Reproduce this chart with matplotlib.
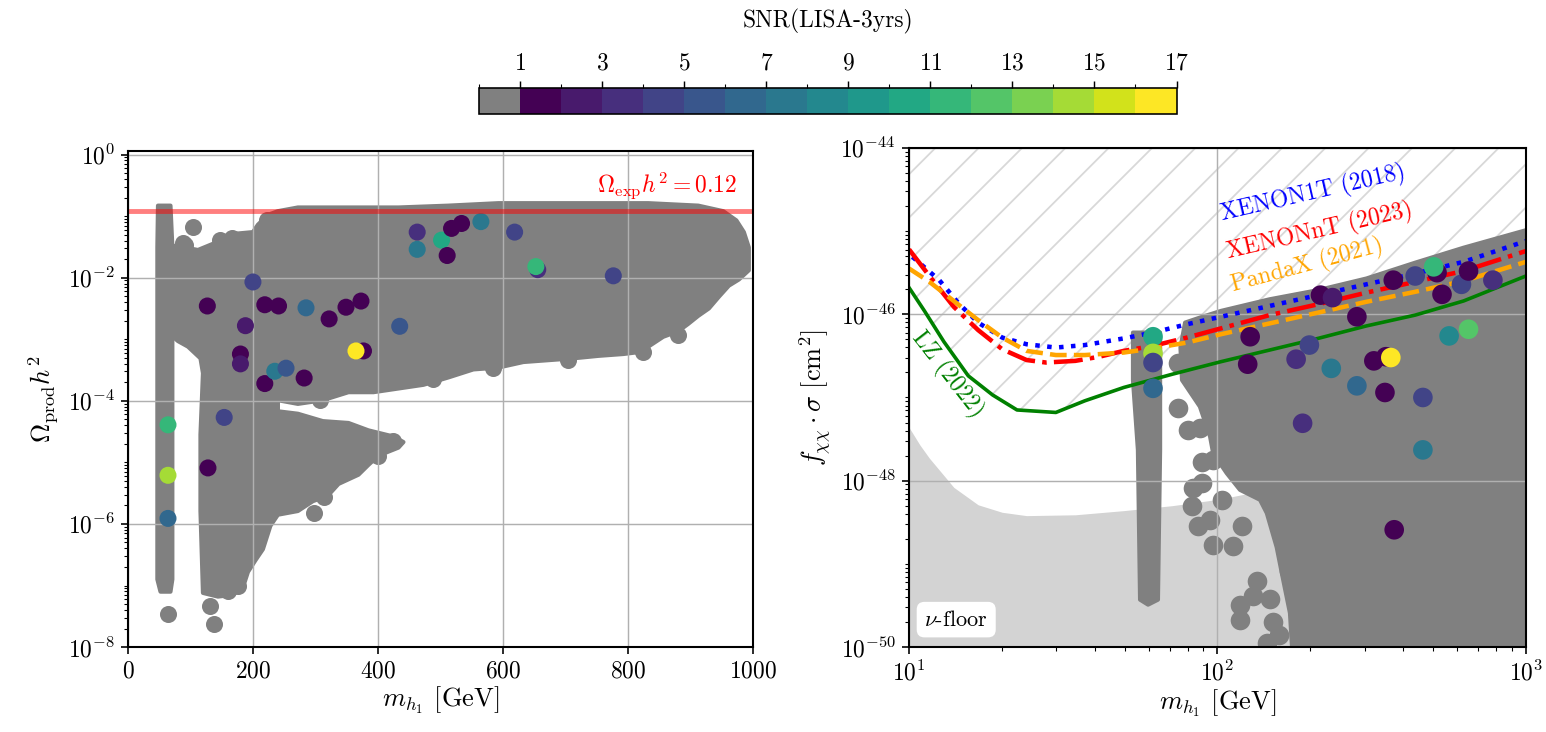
import numpy as np
import matplotlib
matplotlib.use("Agg")
import matplotlib.pyplot as plt
import matplotlib.ticker as mticker
from matplotlib.colors import ListedColormap, BoundaryNorm
from matplotlib.colorbar import ColorbarBase

plt.rcParams.update({
    "font.family": "serif",
    "font.serif": ["cmr10"],
    "mathtext.fontset": "cm",
    "axes.formatter.use_mathtext": True,
    "axes.unicode_minus": False,
    "font.size": 13,
    "hatch.linewidth": 1.0,
})

GREY = "#808080"
DPI = 130

# ---------------- left panel: m_h1 [GeV] vs log10(Omega_prod h^2) ----------------
# outline of the dense grey scan region
left_cloud_m = [72, 96, 112, 136, 168, 200, 208, 224, 240, 272, 353, 433, 513, 593, 753, 833,
                913, 953, 974, 986, 994, 994, 978, 962, 946, 930, 913, 897, 881, 857, 833, 817,
                793, 753, 713, 673, 633, 593, 553, 513, 473, 433, 393, 353, 312, 272, 240, 240,
                272, 312, 353, 385, 425, 441, 433, 401, 385, 369, 337, 320, 296, 272, 240, 228,
                216, 204, 192, 184, 168, 144, 120, 116, 116, 120, 116, 96, 80, 72]
left_cloud_logy = [-1.48, -1.52, -1.55, -1.45, -1.29, -1.26, -1.14, -0.98, -0.92, -0.86, -0.86,
                   -0.86, -0.83, -0.79, -0.79, -0.79, -0.83, -0.92, -1.07, -1.26, -1.51, -1.88,
                   -2.03, -2.13, -2.31, -2.50, -2.62, -2.75, -2.87, -2.96, -3.12, -3.21, -3.24,
                   -3.27, -3.31, -3.34, -3.37, -3.46, -3.49, -3.62, -3.74, -3.80, -3.86, -3.86,
                   -3.99, -4.05, -3.99, -4.17, -4.21, -4.33, -4.36, -4.48, -4.58, -4.67, -4.76,
                   -4.89, -5.04, -5.20, -5.35, -5.54, -5.63, -5.79, -5.85, -6.03, -6.41, -6.59,
                   -6.78, -7.03, -7.15, -7.18, -7.12, -5.79, -4.55, -3.55, -3.31, -3.12, -3.03,
                   -2.96]
left_strip_m = [48, 68, 71, 71, 68, 52, 47, 47]
left_strip_logy = [-0.83, -0.83, -1.5, -6.9, -7.1, -7.1, -6.9, -1.5]
left_out_m = [64, 138, 132, 298, 314, 104, 88, 825, 881, 705, 585, 489, 308, 176, 160, 192, 425,
              401, 91, 147, 166, 222, 130, 112, 166]
left_out_logy = [-7.47, -7.63, -7.34, -5.82, -5.57, -1.17, -1.43, -3.21, -2.93, -3.34, -3.47,
                 -3.65, -3.98, -7.0, -7.09, -6.44, -4.66, -4.89, -1.47, -1.39, -1.36, -1.06,
                 -1.74, -1.82, -1.66]

# coloured points: mass, log10(Omega h^2), SNR
left_pts_m = [64, 64, 64, 128, 154, 127, 188, 200, 219, 241, 285, 180, 180, 219, 235, 253, 282,
              322, 349, 373, 435, 377, 365, 463, 463, 502, 518, 534, 511, 565, 619, 656, 653, 777]
left_pts_logy = [-4.39, -5.21, -5.91, -5.09, -4.27, -2.46, -2.78, -2.07, -2.44, -2.46, -2.49,
                 -3.24, -3.40, -3.72, -3.52, -3.47, -3.63, -2.67, -2.48, -2.38, -2.79, -3.19,
                 -3.19, -1.26, -1.54, -1.39, -1.20, -1.12, -1.64, -1.09, -1.26, -1.87, -1.82,
                 -1.97]
left_pts_snr = [11.5, 14.5, 6.5, 1.5, 4.5, 1.5, 2.5, 4.5, 1.5, 1.5, 6.5, 1.5, 2.5, 1.5, 7.5, 5.5,
                1.5, 1.5, 1.5, 1.5, 5.5, 1.5, 16.5, 3.5, 7.5, 10.5, 1.5, 1.5, 1.5, 7.5, 4.5, 3.5,
                11.5, 4.5]

# ---------------- right panel: log10 m_h1 vs log10(f sigma) ----------------
xenon1t_logm = [1.011, 1.098, 1.161, 1.224, 1.302, 1.381, 1.476, 1.570, 1.696, 1.791, 1.901,
                2.011, 2.169, 2.326, 2.483, 2.641, 2.798, 3.000]
xenon1t_logs = [-45.31, -45.59, -45.87, -46.10, -46.28, -46.36, -46.40, -46.37, -46.29, -46.22,
                -46.12, -46.03, -45.90, -45.77, -45.64, -45.51, -45.37, -45.12]
xenonnt_logm = [1.000, 1.066, 1.145, 1.224, 1.302, 1.381, 1.444, 1.539, 1.617, 1.696, 1.791,
                1.901, 2.011, 2.169, 2.326, 2.483, 2.641, 2.798, 3.000]
xenonnt_logs = [-45.22, -45.54, -45.91, -46.19, -46.42, -46.55, -46.58, -46.56, -46.51, -46.44,
                -46.38, -46.28, -46.17, -46.01, -45.88, -45.74, -45.61, -45.48, -45.24]
pandax_logm = [1.000, 1.066, 1.145, 1.224, 1.302, 1.381, 1.476, 1.570, 1.696, 1.791, 1.901,
               2.011, 2.169, 2.326, 2.483, 2.641, 2.798, 3.000]
pandax_logs = [-45.45, -45.61, -45.84, -46.07, -46.28, -46.44, -46.49, -46.49, -46.46, -46.41,
               -46.34, -46.24, -46.11, -45.98, -45.85, -45.73, -45.60, -45.37]
lz_logm = [1.000, 1.050, 1.113, 1.192, 1.271, 1.350, 1.476, 1.570, 1.696, 1.854, 2.011, 2.169,
           2.326, 2.483, 2.641, 2.798, 3.000]
lz_logs = [-45.68, -45.96, -46.33, -46.74, -46.97, -47.15, -47.18, -47.04, -46.88, -46.72,
           -46.57, -46.43, -46.29, -46.14, -46.01, -45.84, -45.54]
nufloor_logm = [1.000, 1.035, 1.066, 1.145, 1.224, 1.302, 1.381, 1.539, 1.696, 1.854, 2.011,
                2.169, 2.483, 3.000]
nufloor_logs = [-47.36, -47.57, -47.73, -48.08, -48.29, -48.38, -48.42, -48.41, -48.36, -48.30,
                -48.22, -48.10, -47.94, -47.66]

right_cloud_logm = [1.895, 1.943, 2.011, 2.169, 2.326, 2.483, 2.641, 2.798, 3.000, 3.000, 2.245,
                    2.235, 2.213, 2.192, 2.160, 2.138, 2.073, 2.030, 1.986, 1.976, 1.943, 1.885,
                    1.880]
right_cloud_logs = [-46.10, -46.04, -45.96, -45.82, -45.71, -45.57, -45.38, -45.20, -44.99, -50.2,
                    -50.2, -49.59, -49.19, -48.80, -48.39, -48.23, -48.11, -47.91, -47.67, -47.47,
                    -47.11, -46.79, -46.40]
right_strip_logm = [1.726, 1.814, 1.814, 1.807, 1.775, 1.749, 1.742, 1.726]
right_strip_logs = [-46.22, -46.22, -47.63, -49.43, -49.49, -49.43, -47.63, -46.79]
right_out_logm = [1.873, 1.905, 1.943, 1.949, 1.986, 1.922, 1.949, 1.916, 1.938, 1.976, 1.986,
                  2.051, 2.078, 2.014, 2.073, 2.073, 2.116, 2.127, 1.873, 2.169, 2.231, 2.20,
                  2.16, 2.18]
right_out_logs = [-47.13, -47.39, -47.37, -47.78, -47.75, -48.09, -48.03, -48.30, -48.55, -48.47,
                  -48.77, -48.79, -48.55, -48.23, -49.49, -49.67, -49.39, -49.21, -46.59, -49.42,
                  -49.09, -49.85, -49.95, -49.70]

right_pts_logm = [1.791, 1.791, 1.791, 1.791, 2.106, 2.098, 2.255, 2.298, 2.276, 2.369, 2.452,
                  2.334, 2.373, 2.452, 2.507, 2.546, 2.562, 2.543, 2.570, 2.641, 2.712, 2.701,
                  2.728, 2.791, 2.814, 2.893, 2.751, 2.814, 2.666, 2.666, 2.573]
right_pts_logs = [-46.27, -46.47, -46.58, -46.89, -46.27, -46.60, -46.54, -46.37, -47.31, -46.65,
                  -46.86, -45.77, -45.80, -46.03, -46.56, -46.51, -46.52, -46.94, -45.59, -45.54,
                  -45.50, -45.43, -45.76, -45.64, -45.48, -45.59, -46.26, -46.18, -47.00, -47.63,
                  -48.59]
right_pts_snr = [10.5, 14.5, 4.5, 6.5, 1.5, 1.5, 3.5, 4.5, 3.5, 7.5, 6.5, 1.5, 2.5, 1.5, 1.5,
                 1.5, 16.5, 1.5, 1.5, 4.5, 1.5, 11.5, 1.5, 4.5, 1.5, 3.5, 8.5, 12.5, 4.5, 7.5, 1.5]

snr_bounds = np.arange(0, 18)
snr_ticks = [1, 3, 5, 7, 9, 11, 13, 15, 17]

colors = [GREY] + list(plt.get_cmap("viridis", 16)(np.arange(16)))
cmap = ListedColormap(colors)
norm = BoundaryNorm(snr_bounds, cmap.N)


def p10(a):
    return 10.0 ** np.asarray(a)


fig = plt.figure(figsize=(1546 / DPI, 732 / DPI), dpi=DPI)
ax1 = fig.add_axes([0.0828, 0.116, 0.404, 0.678])
ax2 = fig.add_axes([0.588, 0.116, 0.399, 0.682])
cax = fig.add_axes([0.310, 0.844, 0.451, 0.0355])

# ---- left
ax1.fill(left_cloud_m, p10(left_cloud_logy), color=GREY, lw=2.3, joinstyle="round", zorder=2)
ax1.fill(left_strip_m, p10(left_strip_logy), color=GREY, lw=2.3, joinstyle="round", zorder=2)
ax1.scatter(left_out_m, p10(left_out_logy), s=89, color=GREY, lw=0, zorder=2)
ax1.scatter(left_pts_m, p10(left_pts_logy), c=left_pts_snr, cmap=cmap, norm=norm, s=89,
            lw=0, zorder=3)
ax1.axhline(0.12, color="red", alpha=0.5, lw=2.7, zorder=4)
ax1.text(975, 0.31, r"$\Omega_{\rm exp}h^2 = 0.12$", color="red", ha="right", va="center",
         fontsize=13)
ax1.set_yscale("log")
ax1.set_xlim(0, 1000)
ax1.set_ylim(1e-8, 1.15)
ax1.yaxis.set_major_locator(mticker.LogLocator(base=100, numticks=10))
ax1.yaxis.set_minor_locator(mticker.LogLocator(base=10, subs=np.arange(1, 10), numticks=100))
ax1.yaxis.set_minor_formatter(mticker.NullFormatter())
ax1.set_xticks([0, 200, 400, 600, 800, 1000])
ax1.grid(True, which="major", color="#b0b0b0", lw=0.8)
ax1.set_xlabel(r"$m_{h_1}$ [GeV]", fontsize=14.6, labelpad=1)
ax1.set_ylabel(r"$\Omega_{\rm prod}h^2$", fontsize=14.6)

# ---- right
ax2.fill_between(p10(lz_logm), p10(lz_logs), 1e-44, facecolor="none", edgecolor="#d8d8d8",
                 hatch="/", lw=0, zorder=0.5)
ax2.fill_between(p10(nufloor_logm), 1e-51, p10(nufloor_logs), color="#d3d3d3", lw=0, zorder=0.6)
ax2.fill(p10(right_cloud_logm), p10(right_cloud_logs), color=GREY, lw=2.3, joinstyle="round",
         zorder=2)
ax2.fill(p10(right_strip_logm), p10(right_strip_logs), color=GREY, lw=2.3, joinstyle="round",
         zorder=2)
ax2.scatter(p10(right_out_logm), p10(right_out_logs), s=118, color=GREY, lw=0, zorder=2)
ax2.plot(p10(xenon1t_logm), p10(xenon1t_logs), color="blue", ls=":", lw=2.5, zorder=4)
ax2.plot(p10(xenonnt_logm), p10(xenonnt_logs), color="red", ls="-.", lw=2.5, zorder=4)
ax2.plot(p10(pandax_logm), p10(pandax_logs), color="orange", ls="--", lw=2.5, zorder=4)
ax2.plot(p10(lz_logm), p10(lz_logs), color="green", ls="-", lw=2.0, zorder=4)
ax2.scatter(p10(right_pts_logm), p10(right_pts_logs), c=right_pts_snr, cmap=cmap, norm=norm,
            s=118, lw=0, zorder=5)
ax2.text(10 ** 2.31, 10 ** -44.55, "XENON1T (2018)", color="blue", rotation=13, ha="center",
         va="center", fontsize=13)
ax2.text(10 ** 2.33, 10 ** -45.0, "XENONnT (2023)", color="red", rotation=13, ha="center",
         va="center", fontsize=13)
ax2.text(10 ** 2.29, 10 ** -45.42, "PandaX (2021)", color="orange", rotation=15, ha="center",
         va="center", fontsize=13)
ax2.text(10 ** 1.125, 10 ** -46.72, "LZ (2022)", color="green", rotation=-52, ha="center",
         va="center", fontsize=13)
ax2.text(0.025, 0.035, r"$\nu$-floor", transform=ax2.transAxes, fontsize=12.3, ha="left",
         va="bottom", bbox=dict(boxstyle="round,pad=0.35", fc="white", ec="none"), zorder=6)
ax2.set_xscale("log")
ax2.set_yscale("log")
ax2.set_xlim(10, 1000)
ax2.set_ylim(1e-50, 1e-44)
ax2.yaxis.set_major_locator(mticker.LogLocator(base=100, numticks=10))
ax2.yaxis.set_minor_locator(mticker.LogLocator(base=10, subs=np.arange(1, 10), numticks=100))
ax2.yaxis.set_minor_formatter(mticker.NullFormatter())
ax2.grid(True, which="major", color="#b0b0b0", lw=0.8)
ax2.set_xlabel(r"$m_{h_1}$ [GeV]", fontsize=14.6, labelpad=1)
ax2.set_ylabel(r"$f_{\chi\chi}\cdot\sigma$ [cm$^2$]", fontsize=14.6)

for ax in (ax1, ax2):
    ax.set_axisbelow(False)
    for sp in ax.spines.values():
        sp.set_linewidth(1.15)
        sp.set_zorder(7)
    ax.tick_params(which="major", length=3.9, width=0.9, labelsize=13)
    ax.tick_params(which="minor", length=2.3, width=0.6)
    for gl in ax.get_xgridlines() + ax.get_ygridlines():
        gl.set_zorder(2.5)

# ---- colorbar
cb = ColorbarBase(cax, cmap=cmap, norm=norm, boundaries=snr_bounds, orientation="horizontal",
                  ticks=snr_ticks)
cb.ax.xaxis.set_ticks_position("top")
cb.ax.xaxis.set_label_position("top")
cb.set_label("SNR(LISA-3yrs)", fontsize=13, labelpad=14)
cb.ax.tick_params(labelsize=13, length=3.9)
cb.outline.set_linewidth(0.9)

fig.savefig("out.png", dpi=DPI)
